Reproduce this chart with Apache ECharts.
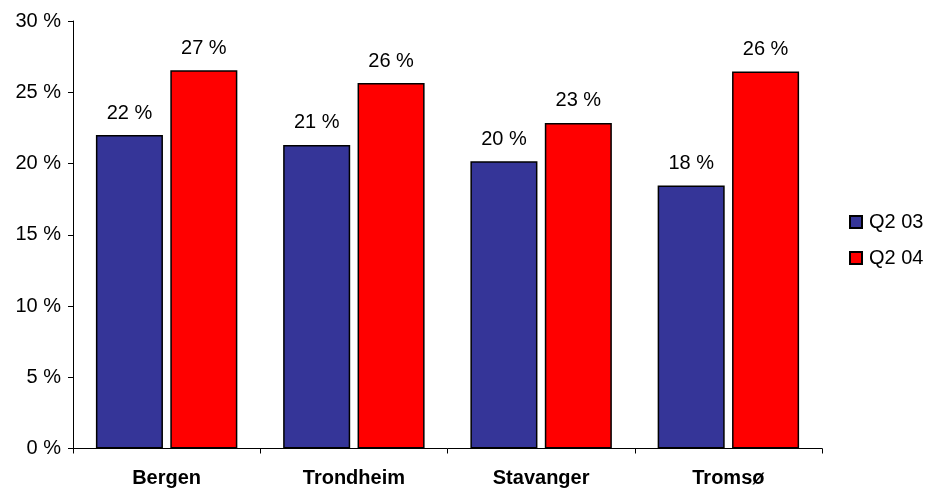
<!DOCTYPE html>
<html>
<head>
<meta charset="utf-8">
<script src="https://cdn.jsdelivr.net/npm/echarts@6/dist/echarts.min.js"></script>
<style>
  html, body { margin: 0; padding: 0; background: #fff; }
  #chart { width: 928px; height: 489px; }
</style>
</head>
<body>
<div id="chart"></div>
<script>
// Cities on the category axis
const cities = ['Bergen', 'Trondheim', 'Stavanger', 'Tromsø'];
// Share per city, in percent
const q203 = [22.0, 21.3, 20.15, 18.45];
const q204 = [26.55, 25.65, 22.85, 26.45];
// Value axis ticks
const yTicks = [0, 5, 10, 15, 20, 25, 30];

const FONT = "'Liberation Sans', Arial, Helvetica, sans-serif";
const pct = v => Math.round(v) + ' %';

const labelCfg = {
  show: true,
  position: 'top',
  distance: 12,
  color: '#000',
  fontFamily: FONT,
  fontSize: 20,
  formatter: p => pct(p.value)
};

const chart = echarts.init(document.getElementById('chart'), null, { renderer: 'canvas' });
chart.setOption({
  animation: false,
  backgroundColor: '#fff',
  grid: { left: 73, right: 106, top: 21, bottom: 40.5, containLabel: false },
  legend: {
    orient: 'vertical',
    left: 849,
    top: 212,
    padding: 0,
    itemWidth: 12,
    itemHeight: 12,
    itemGap: 16,
    icon: 'rect',
    textStyle: { fontFamily: FONT, fontSize: 20, color: '#000', padding: [0, 0, 0, 2] },
    data: ['Q2 03', 'Q2 04']
  },
  xAxis: {
    type: 'category',
    data: cities,
    axisLine: { lineStyle: { color: '#000', width: 1 } },
    axisTick: { show: true, length: 5, alignWithLabel: false, lineStyle: { color: '#000' } },
    axisLabel: { fontFamily: FONT, fontSize: 20, fontWeight: 'bold', color: '#000', margin: 20 },
    splitLine: { show: false }
  },
  yAxis: {
    type: 'value',
    min: yTicks[0],
    max: yTicks[yTicks.length - 1],
    interval: 5,
    axisLine: { show: true, lineStyle: { color: '#000', width: 1 } },
    axisTick: { show: true, length: 5, lineStyle: { color: '#000' } },
    axisLabel: { fontFamily: FONT, fontSize: 20, color: '#000', margin: 12, formatter: v => v + ' %' },
    splitLine: { show: false }
  },
  series: [
    {
      name: 'Q2 03',
      type: 'bar',
      data: q203,
      barWidth: '35.8%',
      barGap: '11%',
      itemStyle: { color: '#353598', borderColor: '#000', borderWidth: 1.5 },
      label: labelCfg
    },
    {
      name: 'Q2 04',
      type: 'bar',
      data: q204,
      barWidth: '35.8%',
      barGap: '11%',
      itemStyle: { color: '#ff0000', borderColor: '#000', borderWidth: 1.5 },
      label: labelCfg
    }
  ]
});
</script>
</body>
</html>
